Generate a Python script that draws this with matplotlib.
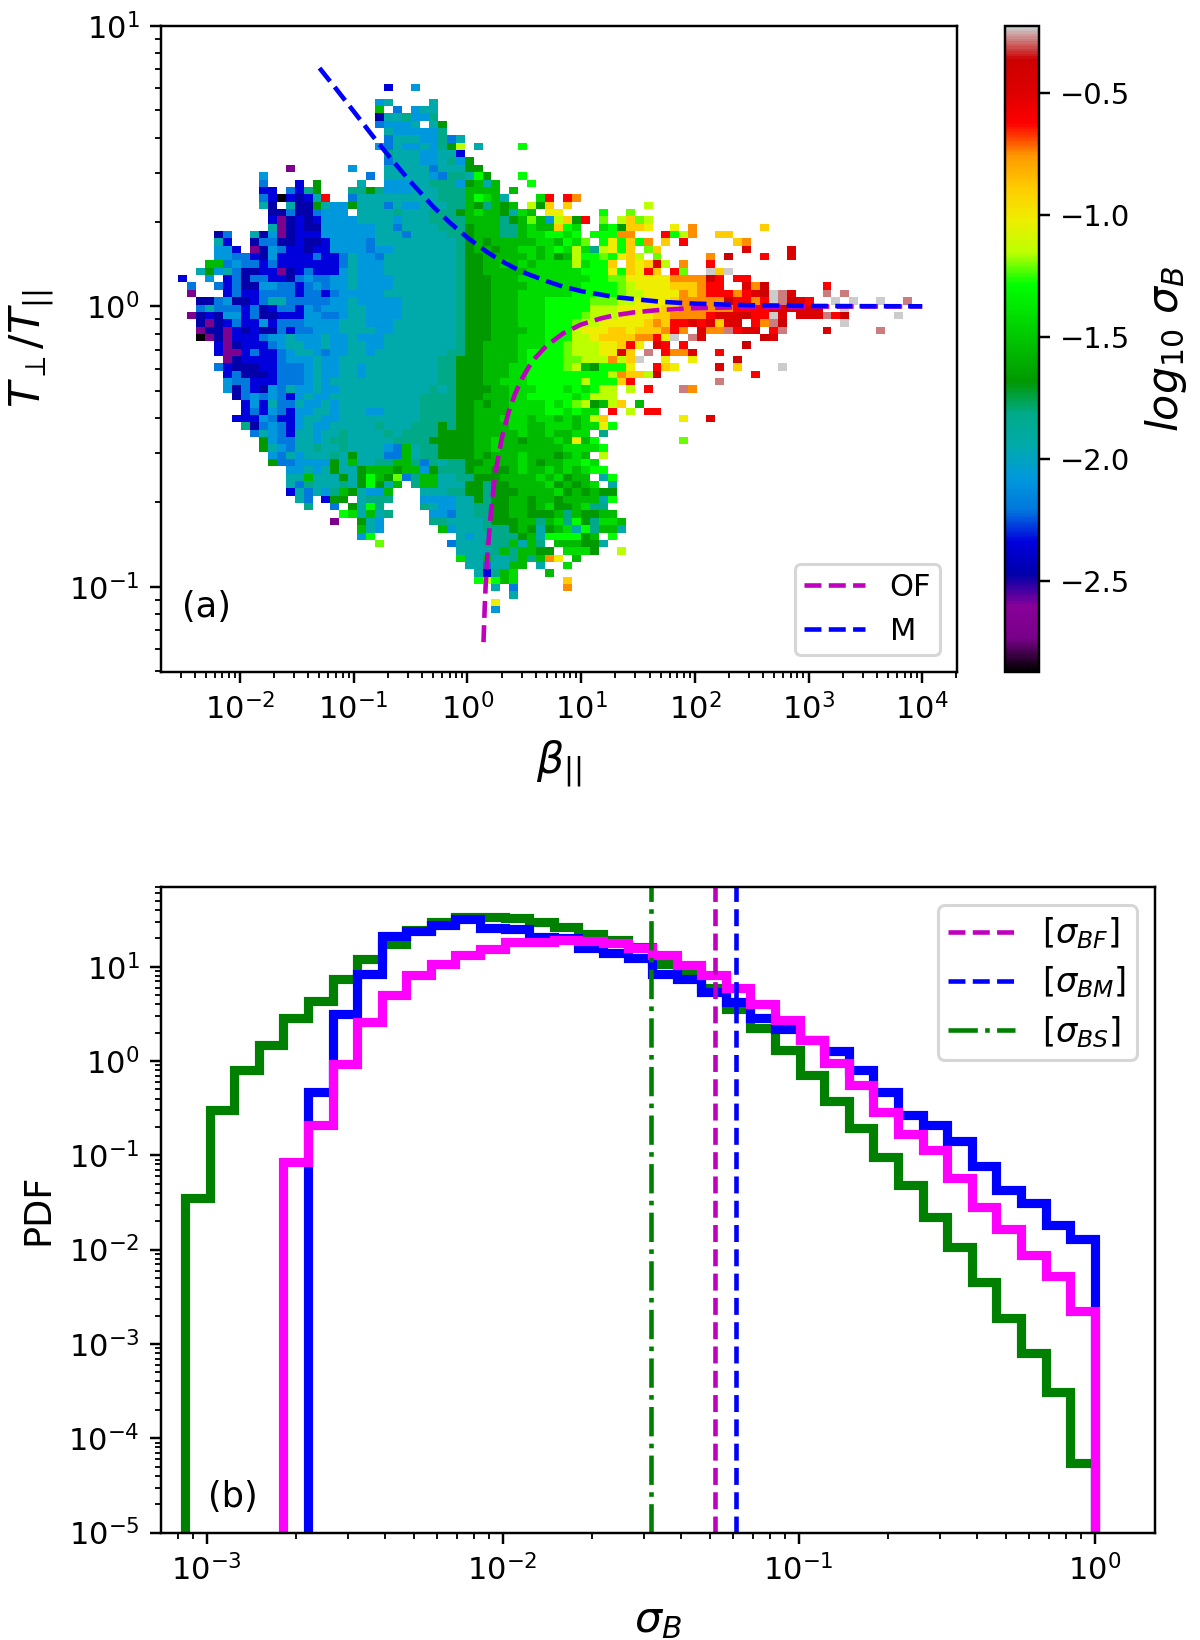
import numpy as np
import matplotlib
matplotlib.use("Agg")
from matplotlib import pyplot as plt
from matplotlib.ticker import LogLocator, NullFormatter

W, H, DPI = 1200, 1640, 220

## Panel (a): binned map, one letter per cell, columns in groups of ten

LEVELS = {"K": -2.87, "P": -2.69, "N": -2.48, "B": -2.34, "A": -2.21, "C": -2.08,
          "T": -1.95, "S": -1.81, "D": -1.68, "E": -1.55, "F": -1.42, "L": -1.28,
          "l": -1.21, "M": -1.15, "Y": -1.02, "G": -0.89, "O": -0.75, "R": -0.62,
          "H": -0.49, "J": -0.36, "W": -0.28, "X": -0.224}

MAP_ROWS = [
    ". . ...B..C...",
    ".",
    ". . ..CT....T.",
    ". . ..E.A.CTT.",
    ". . ..NTTSCCS.",
    ". . ..ACCCT.TD",
    ". . ...TCCCCCS",
    ". . ...ATTTCCS AT",
    ". . ..CATCCTCS DM.T....L.",
    ". . ...STTTCCT TB",
    ". . ...ATTTCCT SCD",
    ". ..P......C ...TTTTTAT TTDD",
    ".........C . .A.TTTTTCA SSTLD...L.",
    ".........A ...B.D.... T..CCCTTSS SCDETE...L",
    ".........B B.ABSD...S SDSCCCTTTS SSEEEE.E..",
    ".........A BKBNBTR..A TTTTTTTTTS SSELFET... FR.RO",
    ".........T N.TNNDTCCD TTTATCCTTT SSEDSEDE.M DG.G ..M",
    ". NNANNACCC. TTTTSTTTSS SDEFEEDTFE .YY....L.. l",
    ". BPNBNBCCCC TTTTCTTTSS SSEEEESDEl ECMGDR.l.M GlM",
    ". TPNBNNCCCC CCTTATTTTS SSDEEESSEF EEGLF..FLD GGY..Y.O.. .....G",
    "....NA..TN CPNBBBCCCC CCTTTATTTT SSDEEESSEF FLLFL.LLLO O...RLMO.. GG",
    "....TB..NA ANNBNNBCCC CATTTTTTTT TSDEDEEEEE FFELFl.LYL GLO.G.R... ..GO",
    "....CCB.PN CABBNBBCCC CACCTTTTTT TSDEEDEEFF EFLFMFSMYL G.lG...... ...H....H.",
    "....CCAABN CBBBBABBAT CCATTTTTTT TSDDEEEEEF EFDEMLLlLY GM.l.....O .J...R..H.",
    "...EEACAAB ABBBBBBBAT CCCTTTTTTT TSDDEEFEFE FFFFMFLLG. GYGHM.O..R",
    "..TDCTANNB BPNBABBBCT CCCTTTTTTT TSDDEEEEEF FFFFFLLLYL GYRG.Rl..X GX",
    "B..C.BANAA BBNACAACCT CCCCTTTTTT TSDDDEEEFF FFFFFFLLll YYYYYOOOOJ R.RR",
    ".A..ABANNC CAABACACCT CCCCTTTTTT TSDDDEEEEF FFFFFLLLLl MYYYYGGGOR R..HOJ.... ..R",
    ".P...BABBA AAABAABACC CCCTTTTTTT TSDDDEEEFF FFFFLLLLLl MMYYYYOGOR RRORHJXWH. ..W.W",
    "..NNACNNBA TTAAAAACCT CCCCCTTTTT TSDDDEEEFF FLLLLLlllM MYYYYGOOOO OJRRORXWJH R..X.X..X. .W",
    "..ATAAABAN BAABCACCCT TCCCCTTTTT TSDDDEEEFF FLLLLLMMMY YYYYGGOOOO OORRRRHHHH HH..X",
    ".PNBNCCBAN NBBBCCAACT TCCCCTTTTT TSDDDEEEFF FLLLLlMMMY YYYGGOOOOR HHHJRRXH.H HHWRJ..... X.",
    "..NPNBABBC BAAACCCCTT TCCCTTTTTT TSDDDEEEFF FLLLlMMYYY YYGOGRRHRH GHH.ROWJ.. ....X",
    "..PNNPBNBN NABAACCCTT TTCCTTTTTT TSDDDEEEEF FLLLMYYYGG YGGGORO.HO OWRHH.RW.. ..H.....W.",
    "..KPNPBBBA CCTCCCTCCT CCCTTTTTTT TSDDDEEEFF FLLLMMYGGG GOORYX.WH. .....JH...",
    "....BPNBBB ACTTCCTCCT TCCTTTTTTT TSDDEEEEFF FLLlMMMYYG RY.HR.R... ...J",
    "....BPPBAB BACTTCACCT TCTTTTTTTT SSDDEEEEFL LLLlMMMYYH G.W.ROOH.. R",
    ".....PNBBB BACCCTCCTT TTTTTTTTTS SDDDEEEEFL LLLllMMMOM GX..Y..Y.. ..J",
    "....ABNNNB BAAACTCCTT CTTTTTTTTS SDDDEEEFFL LLLlMEDLLL Y..RGY.... H.G....X",
    ".....BANNN BAAACTCCTT CTTTTTTTTS SDDDEEEFFL LLLLLLLLMO GGMJ...... ....R",
    ".....CAABB BAAACTCTTT TTTTTTTTTS SDDDEEFFFL LLLLLMLLLG R......... W",
    ".....CNABN CATCCTCCTT TTTTTTTTST SDDDDEEFFF LLLFLFLMM. M.R...WO..",
    "......NACA CABCTCCTTT TTTTTTTSSS SDDDEEEFFL LLLLFLMMM.",
    ".......BCB TAATCCTCTT TTTTTTTSSS SDDEDEEFFF FLFLlMDEMG .E",
    ".......BAB CABCCTTCTT TCCTTTTSSS SDDEEEEFFF FLLFLFF.R. M.RR",
    "......BBBC ABBCTTCCTT TTTTTTTSSS SDDEEEFFFE FFEFEFMG.. ......Y..H",
    ".......SNA CABCTCCTTT TTSTTTSSSD SDDEEEEFFE EFFFEFFYL.",
    "........AT CABTTCTTST TTTSTSSSSD DDDEEEEEFE EFEEFF.S..",
    ".........D CAATTCTSST TTTTSSSSDD DDDEEFEEDE EEFEYEL... ......l",
    ".........D TCATTSTTST TTTCAETSSD DDDEEFEEEE EEEFFFFL..",
    ". CATCTTTSTD TTTAAETSSD DDDEDEEEFE EEDEFE.M..",
    ". DAACCCCDTE TTSSEESAST SSDDEEEEFE DEEFFLF...",
    ". ..CCTCTDTT DEEEDEECDS SSDEEDDEFE EFEFEFLL..",
    ". ..TTETTTDT DLEDlASEET TSSDDDEEEE FEFDEE.TL.",
    ". ..TASTTTST DLDTE.SEET TTDDSDDEEE EFDEDEF.T.",
    ". ..BTATCSED TCCE...TTT SSDDSDDDEE EEFDEDEDD.",
    ". ...TA.BDD. TSSS...CCC CTTDSDDEED EEDEEEETL.",
    ". ....S..A.D TLS....STC CTTSSDDEED EFDDEFSS..",
    ". ........LF TETS....CC ATTSSDDEED DDESEDDEE.",
    ". .......P.. DTC.....SS TTTTSDDDEE SEFSLDSFFE",
    ". . ETC......E CTTTSSSDED TDEFTLSEET",
    ". . CL........ .TCTTSSSDE TLLLLDE.L.",
    ". . ..l....... ATTTSSSETE S.EEEDDT..",
    ". . . .TTTTSESEE DD.FFFD..M",
    ". . . .FTTETTSES EOY.E",
    ". . . ..TTATTEE. T..F",
    ". . . ...TBSEF.. .E",
    ". . . ...LMLEF.. ...G",
    ". . . .....T.A.. ...O",
    ". . . .......T",
    ". . . .....Y",
    ". . . .....C",
]

N_COLS, N_ROWS = 82, len(MAP_ROWS)
BETA_EDGES = np.logspace(-2.543, -2.543 + 82 * 0.0787, N_COLS + 1)
RATIO_EDGES = np.logspace(0.7934, -1.0947, N_ROWS + 1)

## Instability thresholds

OF_BETA = [1.385, 1.42, 1.45, 1.5, 1.6, 1.7, 1.8, 2, 2.3, 2.6, 3, 3.5, 4, 5, 7, 10,
           15, 20, 30, 50, 100, 300, 1000, 3000, 10000]
OF_RATIO = [0.0635, 0.085, 0.103, 0.130, 0.181, 0.227, 0.267, 0.337, 0.419, 0.483,
            0.55, 0.612, 0.659, 0.726, 0.803, 0.862, 0.907, 0.931, 0.954, 0.972,
            0.986, 0.995, 0.999, 0.9995, 1.0]
M_BETA = [0.05, 0.07, 0.1, 0.15, 0.2, 0.3, 0.5, 0.7, 1, 1.5, 2, 3, 5, 7, 10, 20, 50,
          100, 300, 1000, 3000, 10000]
M_RATIO = [7.08, 5.97, 4.96, 4.01, 3.47, 2.85, 2.27, 1.99, 1.76, 1.56, 1.45, 1.33,
           1.23, 1.175, 1.134, 1.079, 1.039, 1.023, 1.010, 1.004, 1.002, 1.001]

## Panel (b): PDF of sigma_B

PDF_EDGES = np.logspace(-3.073, 0, 38)
PDF_S = [0.0352, 0.299, 0.809, 1.48, 2.86, 4.37, 7.41, 12.1, 17.4, 24.5, 29.9, 33.9,
         33.9, 33.1, 29.9, 26.3, 22.4, 19.1, 16.2, 10.7, 8.5, 5.9, 3.55, 2.24, 1.30,
         0.716, 0.38, 0.195, 0.0955, 0.0479, 0.0221, 0.0106, 0.00451, 0.00187,
         0.000794, 0.000306, 0.000054]
PDF_M = [0, 0, 0, 0, 0, 0.469, 3.13, 8.45, 21.1, 24.0, 28.0, 31.7, 25.8, 25.0, 20.7,
         20.0, 15.6, 14.1, 12.5, 8.45, 7.36, 5.4, 4.2, 2.88, 2.17, 1.65, 1.28, 0.81,
         0.469, 0.265, 0.211, 0.1415, 0.0762, 0.0431, 0.0313, 0.0183, 0.0128]
PDF_F = [0, 0, 0, 0, 0.0847, 0.211, 0.922, 2.59, 4.98, 8.1, 10.8, 13.2, 15.3, 18.3,
         18.3, 19.4, 18.9, 18.0, 15.6, 13.2, 10.5, 8.1, 6.0, 4.06, 2.7, 1.66, 0.953,
         0.552, 0.288, 0.167, 0.113, 0.0573, 0.0286, 0.0166, 0.00887, 0.00522, 0.00226]
MEAN_F, MEAN_M, MEAN_S = 0.0522, 0.0615, 0.0318

TOP_X_TICKS = [1e-2, 1e-1, 1e0, 1e1, 1e2, 1e3, 1e4]
TOP_Y_TICKS = [1e-1, 1e0, 1e1]
BOT_X_TICKS = [1e-3, 1e-2, 1e-1, 1e0]
BOT_Y_TICKS = [1e-5, 1e-4, 1e-3, 1e-2, 1e-1, 1e0, 1e1]


def build_map(rows):
    grid = np.full((len(rows), N_COLS), np.nan)
    for i, row in enumerate(rows):
        cells = "".join(g.ljust(10, ".") for g in row.split())
        for j, ch in enumerate(cells[:N_COLS]):
            if ch != ".":
                grid[i, j] = LEVELS[ch]
    return np.ma.masked_invalid(grid)


def panel_box(left, top, right, bottom):
    return [left / W, 1 - bottom / H, (right - left) / W, (bottom - top) / H]


def log_ticks(axis, majors, n=30):
    axis.set_ticks(majors)
    axis.set_minor_locator(LogLocator(base=10, subs=np.arange(2, 10) * 0.1, numticks=n))
    axis.set_minor_formatter(NullFormatter())


plt.rcParams["font.size"] = 10
plt.rcParams["mathtext.fontset"] = "dejavusans"

fig = plt.figure(figsize=(W / DPI, H / DPI), dpi=DPI)
ax1 = fig.add_axes(panel_box(161, 26, 957, 672))
cax = fig.add_axes(panel_box(1005, 26, 1039, 672))
ax2 = fig.add_axes(panel_box(161, 887, 1155, 1532.5))

## Panel (a)

mesh = ax1.pcolormesh(BETA_EDGES, RATIO_EDGES, build_map(MAP_ROWS), cmap="nipy_spectral",
                      vmin=-2.874, vmax=-0.224, linewidth=0, rasterized=True)
ax1.plot(OF_BETA, OF_RATIO, "--", color="m", lw=1.5, label="OF")
ax1.plot(M_BETA, M_RATIO, "--", color="b", lw=1.5, label="M")
ax1.set_xscale("log")
ax1.set_yscale("log")
log_ticks(ax1.xaxis, TOP_X_TICKS)
log_ticks(ax1.yaxis, TOP_Y_TICKS)
ax1.set_xlim(10 ** -2.695, 10 ** 4.306)
ax1.set_ylim(0.0497, 10)
ax1.set_xlabel(r"$\beta_{||}$", fontsize=14)
ax1.set_ylabel(r"$T_\perp/T_{||}$", fontsize=14)
ax1.text(0.027, 0.085, "(a)", transform=ax1.transAxes, fontsize=11.5, va="baseline")
ax1.legend(loc="lower right", fontsize=10, borderpad=0.3, borderaxespad=0.55)

cbar = fig.colorbar(mesh, cax=cax)
cbar.set_ticks([-0.5, -1.0, -1.5, -2.0, -2.5])
cbar.ax.tick_params(labelsize=9.5)
cbar.set_label(r"$log_{10}\ \sigma_B$", fontsize=14)

## Panel (b)

for values, colour in [(PDF_S, "g"), (PDF_M, "b"), (PDF_F, "magenta")]:
    ax2.stairs(values, PDF_EDGES, color=colour, lw=3, baseline=1e-7)
ax2.axvline(MEAN_F, color="m", ls="--", lw=1.5, label=r"$[\sigma_{BF}]$")
ax2.axvline(MEAN_M, color="b", ls="--", lw=1.5, label=r"$[\sigma_{BM}]$")
ax2.axvline(MEAN_S, color="g", ls="-.", lw=1.5, label=r"$[\sigma_{BS}]$")
ax2.set_xscale("log")
ax2.set_yscale("log")
log_ticks(ax2.xaxis, BOT_X_TICKS)
log_ticks(ax2.yaxis, BOT_Y_TICKS)
ax2.set_xlim(10 ** -3.154, 10 ** 0.2037)
ax2.set_ylim(1e-5, 70)
ax2.set_xlabel(r"$\sigma_B$", fontsize=14)
ax2.set_ylabel("PDF", fontsize=12)
ax2.text(0.047, 0.04, "(b)", transform=ax2.transAxes, fontsize=11.5, va="baseline")
ax2.legend(loc="upper right", fontsize=11, borderpad=0.3, labelspacing=0.4, borderaxespad=0.55)

fig.savefig("out.png", dpi=DPI)
